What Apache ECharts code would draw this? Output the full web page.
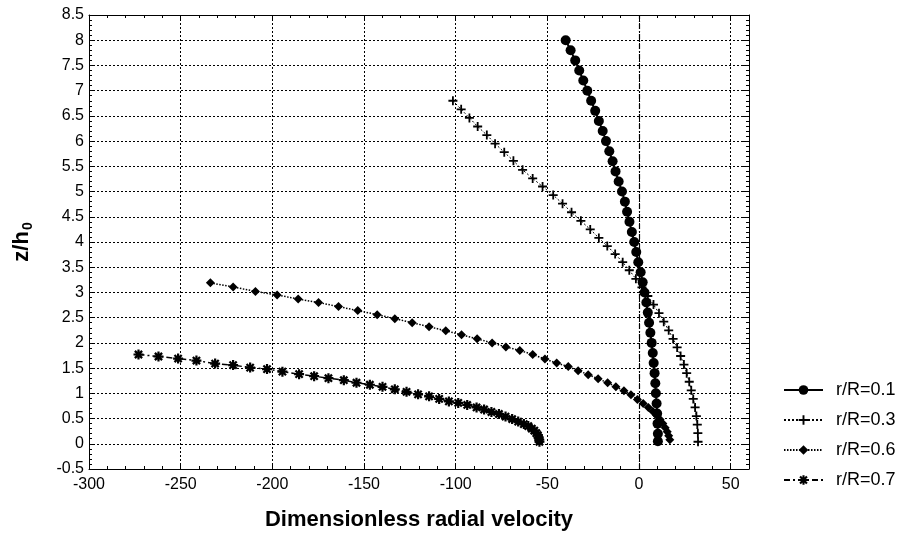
<!DOCTYPE html>
<html>
<head>
<meta charset="utf-8">
<script src="https://cdn.jsdelivr.net/npm/echarts@6/dist/echarts.min.js"></script>
<style>
html,body{margin:0;padding:0;background:#fff;}
#chart{width:899px;height:536px;}
</style>
</head>
<body>
<div id="chart"></div>
<script>
// ---- data ----
const seriesNames = ['r/R=0.1', 'r/R=0.3', 'r/R=0.6', 'r/R=0.7'];

const z01 = [8.0,7.8,7.6,7.4,7.2,7.0,6.8,6.6,6.4,6.2,6.0,5.8,5.6,5.4,5.2,5.0,4.8,4.6,4.4,4.2,4.0,3.8,3.6,3.4,3.2,3.0,2.8,2.6,2.4,2.2,2.0,1.8,1.6,1.4,1.2,1.0,0.8,0.6,0.4,0.2,0.05];
const v01 = [-40,-37.3,-34.8,-32.6,-30.4,-28.2,-26.1,-23.9,-21.9,-19.8,-18.0,-16.2,-14.4,-12.8,-11.1,-9.3,-7.7,-6.5,-5.2,-3.9,-2.6,-1.5,-0.4,0.9,2.0,3.0,4.0,4.8,5.5,6.2,6.9,7.5,8.0,8.5,8.9,9.2,9.6,9.9,10.1,10.3,10.3];

const z03 = [6.80,6.63,6.46,6.29,6.12,5.95,5.78,5.61,5.43,5.26,5.10,4.93,4.76,4.59,4.42,4.25,4.08,3.92,3.76,3.60,3.44,3.27,3.10,2.93,2.76,2.59,2.42,2.25,2.08,1.91,1.74,1.57,1.40,1.23,1.06,0.89,0.72,0.55,0.38,0.21,0.04];
const v03 = [-101.5,-97,-92.5,-88,-83,-78.5,-73.5,-68.5,-63.5,-58.0,-52.6,-46.8,-41.7,-36.8,-31.7,-26.6,-21.9,-17.3,-13.0,-8.9,-5.3,-1.7,1.6,4.8,7.9,10.9,13.5,16.2,18.6,20.8,22.7,24.5,26.0,27.4,28.5,29.6,30.6,31.3,31.8,32.1,32.2];

const z06 = [3.19,3.11,3.02,2.95,2.87,2.80,2.72,2.64,2.56,2.48,2.40,2.32,2.24,2.16,2.08,2.00,1.92,1.85,1.77,1.68,1.60,1.53,1.45,1.37,1.29,1.21,1.13,1.05,0.97,0.88,0.80,0.72,0.64,0.56,0.48,0.40,0.32,0.24,0.16,0.08];
const v06 = [-233.8,-221.4,-209.2,-197.4,-185.9,-174.8,-163.9,-153.4,-142.8,-133.2,-123.7,-114.5,-105.4,-96.8,-88.3,-80.1,-72.6,-65.0,-58.0,-51.3,-44.9,-38.6,-33.2,-27.7,-22.3,-17.1,-12.6,-8.2,-4.4,-0.9,2.3,5.1,7.6,9.7,11.5,13.0,14.3,15.4,16.2,16.8];

const z07 = [1.77,1.73,1.69,1.65,1.59,1.56,1.51,1.48,1.43,1.38,1.34,1.30,1.26,1.21,1.17,1.13,1.08,1.03,0.98,0.94,0.89,0.84,0.81,0.77,0.72,0.68,0.63,0.59,0.54,0.49,0.44,0.39,0.35,0.30,0.26,0.21,0.17,0.12,0.08,0.04];
const v07 = [-273.0,-262.1,-251.4,-241.4,-231.2,-221.4,-212.1,-202.9,-194.5,-185.4,-177.2,-169.4,-161.0,-154.1,-146.8,-139.9,-133.2,-126.8,-120.5,-114.5,-109.0,-103.7,-98.6,-93.7,-88.6,-84.5,-80.5,-76.4,-72.8,-69.2,-65.9,-62.8,-60.4,-58.5,-57.1,-56.0,-55.2,-54.7,-54.4,-54.3];

const xTicks = [-300,-250,-200,-150,-100,-50,0,50];
const yTicks = [-0.5,0,0.5,1,1.5,2,2.5,3,3.5,4,4.5,5,5.5,6,6.5,7,7.5,8,8.5];

const xTitle = 'Dimensionless radial velocity';

// ---- build ----
const pair = (v, z) => v.map((x, i) => [x, z[i]]);
const FONT = '"Liberation Sans", Arial, sans-serif';
const PLUS = 'path://M4,0 L6,0 L6,4 L10,4 L10,6 L6,6 L6,10 L4,10 L4,6 L0,6 L0,4 L4,4 Z';
const STAR = 'path://M0,3.9 L10,3.9 L10,6.1 L0,6.1 Z M3.9,0 L6.1,0 L6.1,10 L3.9,10 Z M0.6,2.2 L2.2,0.6 L9.4,7.8 L7.8,9.4 Z M7.8,0.6 L9.4,2.2 L2.2,9.4 L0.6,7.8 Z';

const gridLine = {show: true, lineStyle: {color: '#000', width: 1, type: [2, 2]}};

const chart = echarts.init(document.getElementById('chart'), null, {renderer: 'canvas'});
chart.setOption({
  backgroundColor: '#fff',
  animation: false,
  textStyle: {fontFamily: FONT, color: '#000'},
  grid: {left: 89, top: 15, right: 150, bottom: 63, containLabel: false},
  legend: {
    orient: 'vertical', left: 778, top: 376,
    itemWidth: 39, itemHeight: 12, itemGap: 12,
    formatter: name => '{t|' + name + '}',
    textStyle: {fontFamily: FONT, fontSize: 18, color: '#000',
      rich: {t: {fontFamily: FONT, fontSize: 18, color: '#000', padding: [0, 0, 0, 8]}}},
    data: seriesNames
  },
  xAxis: [{
    type: 'value', min: -300, max: 60, interval: 50,
    name: xTitle, nameLocation: 'middle', nameGap: 40,
    nameTextStyle: {fontFamily: FONT, fontSize: 22, fontWeight: 'bold', color: '#000'},
    axisLine: {show: true, onZero: false, lineStyle: {color: '#000', width: 1}},
    axisTick: {show: true, inside: true, length: 6, lineStyle: {color: '#000'}},
    minorTick: {show: true, splitNumber: 5, length: 3, lineStyle: {color: '#000'}},
    axisLabel: {fontFamily: FONT, fontSize: 16, color: '#000', margin: 8, showMaxLabel: false,
      formatter: v => xTicks.includes(v) ? String(v) : ''},
    splitLine: gridLine
  }, {
    type: 'value', min: -300, max: 60, interval: 50, position: 'top',
    axisLine: {show: true, onZero: false, lineStyle: {color: '#000', width: 1}},
    axisTick: {show: true, inside: true, length: 6, lineStyle: {color: '#000'}},
    minorTick: {show: true, splitNumber: 5, length: 3, lineStyle: {color: '#000'}},
    axisLabel: {show: false}, splitLine: {show: false}
  }],
  yAxis: [{
    type: 'value', min: -0.5, max: 8.5, interval: 0.5,
    name: '{a|z/h}{b|0}', nameLocation: 'middle', nameGap: 54,
    nameTextStyle: {rich: {
      a: {fontFamily: FONT, fontSize: 22, fontWeight: 'bold', color: '#000'},
      b: {fontFamily: FONT, fontSize: 14, fontWeight: 'bold', color: '#000', padding: [12, 0, 0, 1]}
    }},
    axisLine: {show: true, onZero: false, lineStyle: {color: '#000', width: 1}},
    axisTick: {show: true, inside: true, length: 6, lineStyle: {color: '#000'}},
    minorTick: {show: true, splitNumber: 5, length: 3, lineStyle: {color: '#000'}},
    axisLabel: {fontFamily: FONT, fontSize: 16, color: '#000', margin: 5,
      formatter: v => yTicks.includes(v) ? String(v) : ''},
    splitLine: gridLine
  }, {
    type: 'value', min: -0.5, max: 8.5, interval: 0.5, position: 'right',
    axisLine: {show: true, onZero: false, lineStyle: {color: '#000', width: 1}},
    axisTick: {show: true, inside: true, length: 6, lineStyle: {color: '#000'}},
    minorTick: {show: true, splitNumber: 5, length: 3, lineStyle: {color: '#000'}},
    axisLabel: {show: false}, splitLine: {show: false}
  }],
  series: [
    {
      name: seriesNames[0], type: 'line', data: pair(v01, z01),
      symbol: 'circle', symbolSize: 10, showAllSymbol: true,
      itemStyle: {color: '#000'},
      lineStyle: {color: '#000', width: 2, type: 'solid'},
      markLine: {
        silent: true, symbol: 'none', label: {show: false},
        lineStyle: {color: '#000', width: 1.2, type: [5, 2, 1, 2]},
        data: [{xAxis: 0}]
      },
      z: 5
    },
    {
      name: seriesNames[1], type: 'line', data: pair(v03, z03),
      symbol: PLUS, symbolSize: 9, showAllSymbol: true,
      itemStyle: {color: '#000'},
      lineStyle: {color: '#000', width: 1, type: [2, 2]}
    },
    {
      name: seriesNames[2], type: 'line', data: pair(v06, z06),
      symbol: 'diamond', symbolSize: 9, showAllSymbol: true,
      itemStyle: {color: '#000'},
      lineStyle: {color: '#000', width: 1.5, type: [1.5, 1.5]}
    },
    {
      name: seriesNames[3], type: 'line', data: pair(v07, z07),
      symbol: STAR, symbolSize: 10, showAllSymbol: true,
      itemStyle: {color: '#000'},
      lineStyle: {color: '#000', width: 1.5, type: [6, 3, 2, 3]}
    }
  ]
});
</script>
</body>
</html>
